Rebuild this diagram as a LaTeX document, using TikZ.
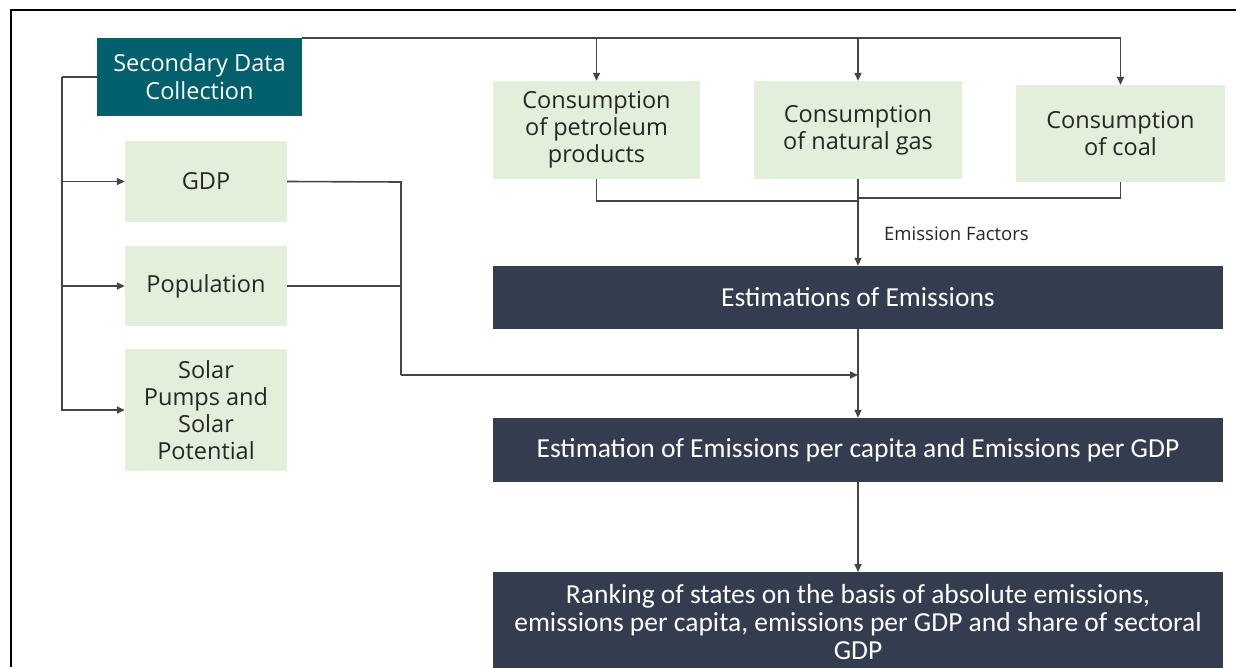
\documentclass[tikz,border=0pt]{standalone}
\usepackage{fontspec}
\setmainfont{Open Sans}
\newfontfamily\darkfont{Carlito}
\usetikzlibrary{arrows.meta}
\definecolor{teal}{HTML}{01606B}
\definecolor{lgreen}{HTML}{E2EFDA}
\definecolor{navy}{HTML}{333D4F}
\definecolor{linec}{HTML}{454545}
\definecolor{txt}{HTML}{262626}
\tikzset{
  sdcbox/.style={fill=teal, text=white, inner sep=0pt, align=center, font=\fontsize{23.5}{28}\selectfont},
  greenbox/.style={fill=lgreen, text=txt, inner sep=0pt, align=center, font=\fontsize{23.5}{27}\selectfont},
  darkbox/.style={fill=navy, text=white, inner sep=0pt, align=center, font=\darkfont\fontsize{27.5}{28}\selectfont},
  conn/.style={draw=linec, line width=1.6pt},
  arr/.style={conn, -{Triangle[length=8pt,width=7pt]}},
}
\begin{document}
\begin{tikzpicture}[x=1pt,y=-1pt]
\useasboundingbox (0,0) rectangle (1236,667);
\fill[white] (0,0) rectangle (1236,667);
% frame
\draw[black, line width=2pt] (11,667) -- (11,10) -- (1236,10);
% nodes
\node[sdcbox, minimum width=205pt, minimum height=78pt] (sdc) at (199.5,77) {Secondary Data\\Collection};
\node[greenbox, minimum width=162pt, minimum height=81pt] (gdp) at (206,181.5) {GDP};
\node[greenbox, minimum width=162pt, minimum height=80pt] (pop) at (206,286) {Population};
\node[greenbox, minimum width=162pt, minimum height=122pt] (solar) at (206,410) {Solar\\Pumps and\\Solar\\Potential};
\node[greenbox, minimum width=207pt, minimum height=98pt] (pet) at (596.5,130) {Consumption\\of petroleum\\products};
\node[greenbox, minimum width=208pt, minimum height=98pt] (gas) at (858,130) {Consumption\\of natural gas};
\node[greenbox, minimum width=209pt, minimum height=97pt] (coal) at (1120.5,133.5) {Consumption\\of coal};
\node[darkbox, minimum width=730pt, minimum height=63pt] (est) at (858,297.5) {Estimations of Emissions};
\node[darkbox, minimum width=730pt, minimum height=64pt] (pcap) at (858,450) {Estimation of Emissions per capita and Emissions per GDP};
\node[darkbox, minimum width=730pt, minimum height=100pt, anchor=north] (rank) at (858,572) {Ranking of states on the basis of absolute emissions,\\emissions per capita, emissions per GDP and share of sectoral\\GDP};
\node[anchor=west, text=txt, font=\fontsize{18.5}{20}\selectfont, inner sep=0pt] (ef) at (884,234) {Emission Factors};
% coordinates
\coordinate (sp) at (62,77);
\coordinate (jp) at (858,201);
\coordinate (jc) at (858,198);
\coordinate (gv) at (401,182);
\coordinate (gm) at (401,375);
% left spine
\draw[conn] (sdc.west) -- (sp);
\draw[arr] (sp) |- (solar.west);
\draw[arr] (sp |- gdp.west) -- (gdp.west);
\draw[arr] (sp |- pop.west) -- (pop.west);
% top bus
\draw[arr] (sdc.north east) -| (coal.north);
\draw[arr] (sdc.north east -| pet.north) -- (pet.north);
\draw[arr] (sdc.north east -| gas.north) -- (gas.north);
% bottom collection
\draw[conn] (pet.south) |- (jp);
\draw[conn] (coal.south) |- (jc);
\draw[arr] (gas.south) -- (est.north);
% GDP / population
\draw[conn] (gdp.east) -- (gv) -- (gm);
\draw[conn] (pop.east) -- (pop.east -| gv);
\draw[arr] (gm) -- (gm -| est.south);
% vertical chain
\draw[arr] (est.south) -- (pcap.north);
\draw[arr] (pcap.south) -- (rank.north);
\end{tikzpicture}
\end{document}
